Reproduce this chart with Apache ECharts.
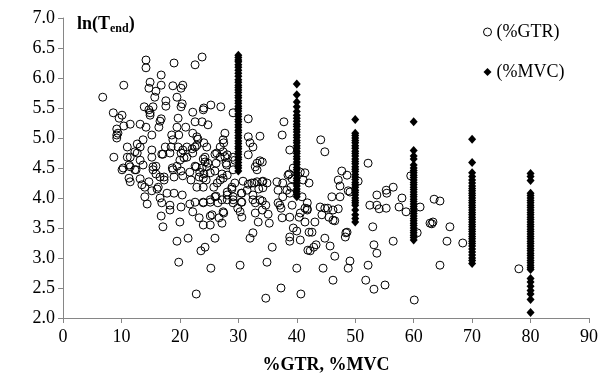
<!DOCTYPE html>
<html>
<head>
<meta charset="utf-8">
<script src="https://cdn.jsdelivr.net/npm/echarts@6/dist/echarts.min.js"></script>
<style>html,body{margin:0;padding:0;background:#fff;}#c{width:614px;height:383px;}</style>
</head>
<body>
<div id="c"></div>
<script>
// %GTR observations: [%GTR, ln(Tend)]
var gtrPoints = [
[6.8,5.68],[14.2,6.3],[14.2,6.17],[10.4,5.88],[19.0,6.25],[22.6,6.22],[23.8,6.35],[16.8,6.05],[14.9,5.93],[16.8,5.88],
[14.7,5.83],[15.9,5.78],[15.7,5.68],[18.8,5.87],[20.5,5.88],[20.2,5.83],[19.5,5.68],[17.6,5.62],[17.6,5.53],[13.9,5.52],
[14.7,5.47],[15.4,5.52],[14.9,5.38],[16.8,5.32],[20.2,5.52],[20.4,5.57],[19.7,5.33],[8.6,5.42],[10.1,5.38],[9.6,5.33],
[9.2,5.15],[10.4,5.2],[11.5,5.23],[9.2,5.05],[9.2,5.0],[13.2,5.23],[14.2,5.18],[16.4,5.18],[16.6,5.28],[15.2,5.05],
[13.7,4.97],[12.7,4.9],[11.0,4.85],[8.7,4.68],[11.5,4.68],[12.7,4.75],[13.2,4.63],[15.2,4.8],[17.1,4.73],[17.5,4.85],
[18.6,5.05],[18.8,4.97],[19.5,5.18],[21.0,5.18],[22.2,5.43],[22.6,5.27],[23.8,5.27],[24.1,5.5],[25.3,5.55],[27.0,5.52],
[24.8,5.22],[22.2,5.08],[22.9,5.02],[19.7,4.85],[21.2,4.85],[22.6,4.85],[24.1,4.92],[24.6,4.85],[22.2,4.75],[20.2,4.75],
[18.5,4.85],[27.7,5.08],[27.5,4.92],[26.9,4.85],[27.4,4.77],[26.0,4.73],[29.1,5.42],[29.1,4.68],[31.7,5.32],[31.7,5.02],
[32.0,4.92],[32.5,4.85],[33.7,5.03],[31.7,4.72],[37.8,5.27],[37.5,5.05],[38.8,4.8],[34.1,4.6],[33.2,4.58],[11.5,4.52],
[13.7,4.55],[10.3,4.5],[15.9,4.53],[19.5,4.53],[22.6,4.53],[24.3,4.6],[24.6,4.52],[27.9,4.58],[29.4,4.63],
[10.1,4.47],[11.3,4.55],[11.3,4.33],[11.5,4.27],[13.2,4.32],[12.5,4.47],[13.5,4.22],[14.0,4.18],[15.2,4.12],[14.0,4.02],
[14.4,3.9],[15.4,4.47],[15.9,4.4],[16.1,4.15],[17.3,4.3],[16.6,4.0],[16.9,3.92],[17.8,4.08],[16.8,3.7],[17.1,3.52],
[18.3,3.88],[18.3,3.8],[19.0,4.08],[19.0,4.35],[18.8,4.47],[20.2,4.45],[20.5,4.37],[20.7,4.67],[20.2,3.85],[20.4,4.05],
[20.0,3.6],[19.5,3.28],[19.8,2.93],[21.4,3.33],[21.7,4.43],[21.9,4.3],[21.7,3.9],[22.2,3.77],[22.6,3.93],[22.9,4.18],
[23.3,4.35],[23.4,4.43],[24.1,4.4],[24.0,3.92],[23.3,3.67],[24.0,3.55],[25.2,3.55],[25.5,3.72],[25.2,3.93],[26.2,4.03],
[26.5,3.92],[25.8,4.18],[26.4,4.25],[27.4,4.33],[28.1,4.38],[28.0,4.55],[26.2,4.58],[26.9,4.68],[27.7,4.69],[26.0,3.33],
[24.3,3.18],[23.6,3.12],[25.3,2.83],[22.8,2.4],[26.7,3.67],[27.4,3.77],[27.2,3.58],[28.1,3.97],[28.1,4.1],[28.9,4.15],
[29.1,4.02],[29.1,3.92],[29.9,3.83],[30.3,3.77],[30.6,3.68],[30.6,3.93],[30.5,4.08],[30.8,4.28],[29.1,4.47],[30.3,2.88],
[32.0,3.33],[32.5,3.42],[33.7,4.62],[33.2,4.47],[32.3,4.25],[33.2,4.27],[34.1,4.27],[34.9,4.25],[34.2,4.17],[32.5,4.05],
[32.9,3.92],[33.7,3.97],[34.1,3.8],[35.1,3.73],[34.7,3.88],[32.9,3.75],[33.4,3.6],[35.3,3.58],[35.8,3.18],[34.9,2.93],
[34.7,2.33],[37.3,2.5],[36.6,4.27],[36.8,4.13],[37.1,3.88],[37.5,3.67],[37.3,3.83],[38.3,4.13],[38.8,4.08],[38.7,4.4],
[39.2,4.32],[39.4,4.5],[38.8,3.68],[39.4,3.5],[38.8,3.35],[38.8,3.28],[40.0,3.45],[40.6,3.3],[40.0,2.83],[40.7,2.4],
[40.4,3.68],[40.6,3.75],[41.4,3.6],[41.4,4.42],[41.8,3.8],[42.1,3.43],[41.9,3.13],
[44.1,4.97],[44.8,4.77],[52.2,4.58],[41.1,4.3],[40.9,4.02],[41.8,3.82],[42.6,3.43],[43.1,3.6],[42.3,3.12],[43.3,3.22],
[44.0,3.85],[44.3,3.72],[44.8,3.83],[45.3,3.83],[45.5,3.68],[46.2,3.8],[47.1,3.82],[46.2,3.63],[46.5,3.62],[46.0,4.02],
[47.4,4.02],[47.1,4.3],[47.4,4.2],[47.7,4.45],[48.6,4.38],[48.8,4.12],[49.1,4.1],[50.5,4.28],[44.8,3.33],[45.7,3.2],
[46.5,3.03],[44.5,2.83],[46.2,2.63],[48.4,3.42],[48.3,3.35],[49.1,2.95],[48.8,2.83],[52.5,3.88],[53.7,4.05],[53.7,3.88],
[54.1,3.82],[55.3,3.83],[55.3,4.13],[55.4,4.08],[56.5,4.18],[53.0,3.52],[53.2,3.22],[53.7,3.08],[52.2,2.88],[51.8,2.63],
[53.2,2.48],[55.1,2.55],[56.5,3.28],[57.5,3.85],[58.0,4.0],[58.7,3.77],[59.5,4.37],[60.1,2.3],[61.1,3.85],[60.6,3.42],
[62.8,3.58],[42.1,4.25],[42.9,3.18],[48.6,3.43],[63.3,3.6],[63.5,3.98],[64.5,3.95],[66.2,3.52],[65.7,3.28],[64.5,2.88],
[68.4,3.25],[78.0,2.82],[63.1,3.57],
[24.0,5.47],[27.4,4.97],[26.3,4.75],[28.1,4.72],[24.0,4.65],[23.8,4.5],[25.2,4.42],[26.0,4.45],[27.2,4.4],[32.9,4.52],
[38.5,4.38],[40.6,4.43],[24.5,4.3],[26.9,4.3],[29.4,4.25],[31.7,4.23],[32.7,4.25],[34.2,4.28],[37.6,4.25],[39.0,4.18],
[28.9,4.18],[31.5,4.13],[33.5,4.15],[30.6,4.08],[28.1,4.05],[26.0,4.02],[25.2,3.97],[24.0,3.93],[27.2,3.97],[29.1,3.97],
[30.5,3.93],[32.5,3.97],[34.1,3.95],[36.8,3.92],[37.6,4.02],[41.4,3.83],[41.8,3.92],
[25.2,3.7],[27.5,3.75],[39.2,3.88],
[9.4,5.08],[14.9,5.42],[19.8,5.05],[23.1,4.98],[22.9,4.88],[22.1,4.82],[20.5,4.8],[18.3,4.75],[13.2,4.85],[12.3,4.77],
[11.0,4.68],[12.3,4.47],[15.2,4.68],[15.4,4.52],[16.9,4.73],[17.3,4.35],[18.7,4.5],[20.0,4.63],[21.2,4.68],[22.8,4.52],
[24.3,4.68],[24.8,4.58],[14.7,4.27],[16.6,4.35],[16.3,4.18],[24.0,4.33],[24.0,4.18]
];

// %MVC levels and ln(Tend) observed at each level
var mvcLevels = [30, 40, 50, 60, 70, 80];
var mvc30 = [6.38,6.34,6.3,6.27,6.22,6.18,6.13,6.08,6.03,5.97,5.93,5.88,5.84,5.8,5.76,5.71,5.67,5.62,5.58,5.53,5.49,5.45,5.4,5.36,5.31,5.27,5.22,5.18,5.13,5.09,5.04,5.0,4.95,4.91,4.86,4.82,4.77,4.73,4.68,4.64,4.59,4.54,4.5,4.45];
var mvc40 = [5.9,5.72,5.6,5.52,5.44,5.38,5.33,5.28,5.23,5.19,5.14,5.1,5.05,5.01,4.96,4.92,4.87,4.83,4.78,4.74,4.69,4.65,4.6,4.56,4.51,4.47,4.42,4.38,4.33,4.29,4.24,4.2,4.15,4.11,4.06,4.02];
var mvc50 = [5.31,5.08,5.04,5.0,4.96,4.92,4.87,4.83,4.78,4.74,4.7,4.65,4.61,4.57,4.52,4.48,4.44,4.39,4.35,4.31,4.26,4.22,4.18,4.13,4.09,4.05,4.0,3.96,3.92,3.88,3.8,3.72,3.66,3.6];
var mvc60 = [5.27,4.79,4.7,4.65,4.55,4.5,4.46,4.42,4.38,4.34,4.3,4.26,4.22,4.18,4.14,4.1,4.06,4.02,3.98,3.94,3.9,3.86,3.82,3.78,3.74,3.7,3.66,3.62,3.58,3.54,3.5,3.46,3.42,3.38,3.34,3.3];
var mvc70 = [4.98,4.59,4.42,4.36,4.3,4.25,4.2,4.16,4.12,4.08,4.04,4.0,3.96,3.92,3.88,3.84,3.8,3.76,3.72,3.68,3.64,3.6,3.56,3.52,3.48,3.44,3.4,3.36,3.32,3.28,3.24,3.2,3.15,3.1,3.05,3.0,2.96,2.91];
var mvc80 = [4.41,4.36,4.29,4.08,4.04,4.0,3.96,3.92,3.88,3.84,3.8,3.76,3.72,3.68,3.64,3.6,3.56,3.52,3.48,3.44,3.4,3.36,3.32,3.28,3.24,3.2,3.16,3.12,3.08,3.04,3.0,2.96,2.92,2.88,2.84,2.81,2.66,2.6,2.53,2.46,2.4,2.31,2.09];

var seriesNames = ['(%GTR)', '(%MVC)'];
var xAxisTitle = '%GTR, %MVC';

var mvcColumns = [mvc30, mvc40, mvc50, mvc60, mvc70, mvc80];
var mvcPoints = [];
mvcColumns.forEach(function (col, i) {
  col.forEach(function (v) { mvcPoints.push([mvcLevels[i], v]); });
});

var serif = '"Liberation Serif", "Times New Roman", serif';
var axisGray = '#868686';

var chart = echarts.init(document.getElementById('c'), null, {renderer: 'canvas'});
chart.setOption({
  animation: false,
  backgroundColor: '#fff',
  title: {
    text: '{a|ln(T}{b|end}{a|)}',
    left: 72, top: 8,
    textStyle: {
      rich: {
        a: {fontFamily: serif, fontWeight: 'bold', fontSize: 18, color: '#000', lineHeight: 22},
        b: {fontFamily: serif, fontWeight: 'bold', fontSize: 12, color: '#000', lineHeight: 22, padding: [9, 0, 0, 0]}
      }
    }
  },
  legend: {
    orient: 'vertical',
    left: 478, top: 18,
    itemWidth: 8, itemHeight: 8, itemGap: 22,
    textStyle: {fontFamily: serif, fontSize: 18, color: '#000'},
    data: [
      {name: seriesNames[0], icon: 'circle', itemStyle: {color: '#fff', borderColor: '#000', borderWidth: 1}},
      {name: seriesNames[1], icon: 'diamond', itemStyle: {color: '#000'}}
    ]
  },
  grid: {left: 63, right: 25, top: 18, bottom: 65, containLabel: false},
  xAxis: {
    type: 'value', min: 0, max: 90, interval: 10,
    name: xAxisTitle, nameLocation: 'middle', nameGap: 38,
    nameTextStyle: {fontFamily: serif, fontWeight: 'bold', fontSize: 18, color: '#000'},
    axisLine: {show: true, lineStyle: {color: axisGray, width: 1}},
    axisTick: {show: true, length: 5, lineStyle: {color: axisGray}},
    axisLabel: {fontFamily: serif, fontSize: 18, color: '#000', margin: 10},
    splitLine: {show: false}
  },
  yAxis: {
    type: 'value', min: 2, max: 7, interval: 0.5,
    axisLine: {show: true, lineStyle: {color: axisGray, width: 1}},
    axisTick: {show: true, length: 5, lineStyle: {color: axisGray}},
    axisLabel: {fontFamily: serif, fontSize: 18, color: '#000', margin: 8,
      formatter: function (v) { return v.toFixed(1); }},
    splitLine: {show: false}
  },
  series: [
    {
      name: seriesNames[0], type: 'scatter', data: gtrPoints,
      symbol: 'circle', symbolSize: 8,
      itemStyle: {color: 'rgba(255,255,255,0)', borderColor: '#000', borderWidth: 1, opacity: 1},
      emphasis: {disabled: true}, z: 2
    },
    {
      name: seriesNames[1], type: 'scatter', data: mvcPoints,
      symbol: 'diamond', symbolSize: [8, 9],
      itemStyle: {color: '#000', opacity: 1},
      emphasis: {disabled: true}, z: 3
    }
  ]
});
</script>
</body>
</html>
